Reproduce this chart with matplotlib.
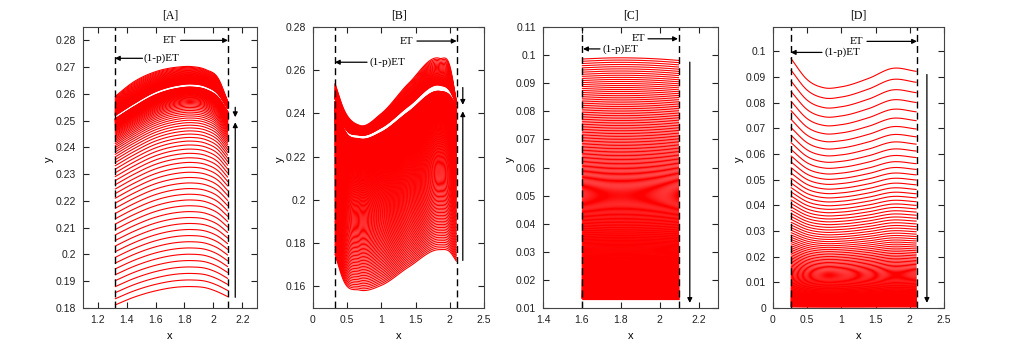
import numpy as np
import matplotlib
matplotlib.use("Agg")
import matplotlib.pyplot as plt
from matplotlib.collections import LineCollection
from matplotlib.ticker import FuncFormatter

# ---- values ----
# [A]
a_xa = [1.32, 1.45, 1.60, 1.75, 1.85, 1.95, 2.03, 2.10]
a_top = [0.2590, 0.2645, 0.2683, 0.2700, 0.2702, 0.2690, 0.2660, 0.2570]
a_upper_lim = [0.2518, 0.2563, 0.2608, 0.2632, 0.2637, 0.2627, 0.2600, 0.2544]
a_lower_lim = [0.2508, 0.2553, 0.2598, 0.2622, 0.2627, 0.2617, 0.2590, 0.2534]
a_bottom = [0.1811, 0.1840, 0.1864, 0.1878, 0.1880, 0.1875, 0.1860, 0.1842]
# spacing of neighbouring curves (as a fraction of the family range)
a_up_d = [1.0, 0.0]
a_up_step = [0.05, 0.01]
a_lo_d = [1.0, 0.5, 0.3, 0.15, 0.05, 0.0]
a_lo_step = [0.033, 0.028, 0.020, 0.010, 0.003, 0.0005]

# [B]
b_xa = [0.32, 0.45, 0.68, 1.00, 1.40, 1.85, 2.00, 2.10]
b_top = [0.2540, 0.2420, 0.2345, 0.2400, 0.2540, 0.2655, 0.2620, 0.2448]
b_upper_lim = [0.2470, 0.2345, 0.2300, 0.2335, 0.2435, 0.2530, 0.2505, 0.2442]
b_lower_lim = [0.2460, 0.2332, 0.2285, 0.2315, 0.2410, 0.2505, 0.2485, 0.2432]
b_bottom = [0.1750, 0.1625, 0.1583, 0.1605, 0.1690, 0.1770, 0.1760, 0.1715]
b_up_d = [1.0, 0.0]
b_up_step = [0.05, 0.01]
b_lo_d = [1.0, 0.0]
b_lo_step = [0.0114, 0.0008]

# [C]
c_xa = [1.60, 1.75, 1.85, 2.00, 2.10]
c_top = [0.0986, 0.0990, 0.0990, 0.0986, 0.0981]
c_limit = 0.013
c_d = [1.0, 0.0]
c_step = [0.0093, 0.0002]

# [D]
d_xa = [0.26, 0.50, 0.75, 1.00, 1.40, 1.75, 2.10]
d_top = [0.0973, 0.0890, 0.0858, 0.0862, 0.0895, 0.0934, 0.0922]
d_levels = [0.0973, 0.08, 0.06, 0.04, 0.02, 0.01, 0.005, 0.0]
d_spacing = [0.0045, 0.0036, 0.0024, 0.0013, 0.0006, 0.0003, 0.00015, 0.00006]


def hermite(xa, ya, xs):
    xa = np.asarray(xa, float)
    ya = np.asarray(ya, float)
    m = np.gradient(ya, xa)
    i = np.clip(np.searchsorted(xa, xs) - 1, 0, len(xa) - 2)
    h = xa[i + 1] - xa[i]
    t = (xs - xa[i]) / h
    h00 = 2 * t**3 - 3 * t**2 + 1
    h10 = t**3 - 2 * t**2 + t
    h01 = -2 * t**3 + 3 * t**2
    h11 = t**3 - t**2
    return h00 * ya[i] + h10 * h * m[i] + h01 * ya[i + 1] + h11 * h * m[i + 1]


def stepped(d_anchor, s_anchor, d_end):
    # walk from d_anchor[0] down to d_end, using the read spacing
    d = d_anchor[0]
    out = []
    while d > d_end:
        out.append(d)
        d -= np.interp(d, d_anchor[::-1], s_anchor[::-1])
    return out


def family(start, limit, dvals):
    return [limit + (start - limit) * d for d in dvals]


def fmt(v, _):
    return f"{v:g}"


serif = "Liberation Serif"
sans = "Liberation Sans"

fig = plt.figure(figsize=(10.35, 3.47), dpi=100)
W, H = 1035, 347
lefts = [83, 313, 543, 773]
widths = [174, 171, 175, 171]
axes = [fig.add_axes([l / W, 1 - 308 / H, w / W, 281 / H]) for l, w in zip(lefts, widths)]


def add_curves(ax, xs, curves):
    segs = [np.column_stack([xs, c]) for c in curves]
    ax.add_collection(LineCollection(segs, colors="#ff0000", linewidths=0.8))


def arrow(ax, tail, head):
    ax.annotate("", xy=head, xytext=tail,
                arrowprops=dict(arrowstyle="-|>", color="black", lw=0.9,
                                mutation_scale=7, shrinkA=0, shrinkB=0))


def style(ax, title, xlim, ylim, xticks, yticks, left_w, width):
    ax.set_xlim(*xlim)
    ax.set_ylim(*ylim)
    ax.set_xticks(xticks)
    ax.set_yticks(yticks)
    ax.xaxis.set_major_formatter(FuncFormatter(fmt))
    ax.yaxis.set_major_formatter(FuncFormatter(fmt))
    ax.tick_params(direction="in", length=4, width=0.8, top=True, right=True,
                   labelsize=7.5, colors="#222222", pad=5)
    for lab in ax.get_xticklabels() + ax.get_yticklabels():
        lab.set_family(sans)
    for s in ax.spines.values():
        s.set_color("#444444")
        s.set_linewidth(0.8)
    ax.set_title(title, family=serif, fontsize=8.5, pad=6)
    ax.set_xlabel("x", family=sans, fontsize=8)
    ax.set_ylabel("y", family=sans, fontsize=8, rotation=90)
    ax.xaxis.set_label_coords(0.5, -23 / 281)
    ax.yaxis.set_label_coords(-left_w / width, 0.53)


def dashes(ax, x0, x1):
    for xv in (x0, x1):
        ax.axvline(xv, color="black", lw=1.0, ls=(0, (5, 3)))


def labels(ax, et_x, et_y, pe_x, pe_y, x0, x1):
    ax.text(et_x[0], et_y, "ET", family=serif, fontsize=8, ha="right", va="center")
    arrow(ax, (et_x[1], et_y), (x1, et_y))
    ax.text(pe_x[0], pe_y, "(1-p)ET", family=serif, fontsize=8, ha="left", va="center")
    arrow(ax, (pe_x[1], pe_y), (x0, pe_y))


# ---- [A] ----
ax = axes[0]
xs = np.linspace(a_xa[0], a_xa[-1], 300)
top = hermite(a_xa, a_top, xs)
ulim = hermite(a_xa, a_upper_lim, xs)
llim = hermite(a_xa, a_lower_lim, xs)
bot = hermite(a_xa, a_bottom, xs)
add_curves(ax, xs, family(top, ulim, stepped(a_up_d, a_up_step, 0.003))
           + family(bot, llim, stepped(a_lo_d, a_lo_step, 0.002)))
dashes(ax, 1.32, 2.1)
labels(ax, (1.745, 1.773), 0.280, (1.52, 1.51), 0.2733, 1.32, 2.1)
arrow(ax, (2.15, 0.2550), (2.15, 0.2513))
arrow(ax, (2.15, 0.1840), (2.15, 0.2494))
style(ax, "[A]", (1.1, 2.3), (0.18, 0.285), np.arange(1.2, 2.21, 0.2),
      np.arange(0.18, 0.2801, 0.01), 29, 174)

# ---- [B] ----
ax = axes[1]
xs = np.linspace(b_xa[0], b_xa[-1], 300)
top = hermite(b_xa, b_top, xs)
ulim = hermite(b_xa, b_upper_lim, xs)
llim = hermite(b_xa, b_lower_lim, xs)
bot = hermite(b_xa, b_bottom, xs)
add_curves(ax, xs, family(top, ulim, stepped(b_up_d, b_up_step, 0.003))
           + family(bot, llim, stepped(b_lo_d, b_lo_step, 0.003)))
dashes(ax, 0.32, 2.1)
labels(ax, (1.46, 1.52), 0.2735, (0.82, 0.79), 0.2637, 0.32, 2.1)
arrow(ax, (2.19, 0.2520), (2.19, 0.2440))
arrow(ax, (2.19, 0.1720), (2.19, 0.2410))
style(ax, "[B]", (0, 2.5), (0.15, 0.28), np.arange(0, 2.51, 0.5),
      np.arange(0.16, 0.2801, 0.02), 28, 171)

# ---- [C] ----
ax = axes[2]
xs = np.linspace(c_xa[0], c_xa[-1], 300)
top = hermite(c_xa, c_top, xs)
add_curves(ax, xs, family(top, c_limit, stepped(c_d, c_step, 0.0035)))
dashes(ax, 1.6, 2.1)
labels(ax, (1.925, 1.94), 0.1058, (1.708, 1.693), 0.1022, 1.606, 2.094)
arrow(ax, (2.155, 0.0975), (2.155, 0.0118))
style(ax, "[C]", (1.4, 2.3), (0.01, 0.11), np.arange(1.4, 2.21, 0.2),
      np.arange(0.01, 0.1101, 0.01), 28, 175)

# ---- [D] ----
ax = axes[3]
xs = np.linspace(d_xa[0], d_xa[-1], 300)
shape = hermite(d_xa, d_top, xs) / d_top[0]
d_curves = [lev * shape for lev in stepped(d_levels, d_spacing, 0.0004)]
add_curves(ax, xs, d_curves)
dashes(ax, 0.26, 2.1)
labels(ax, (1.316, 1.374), 0.1039, (0.746, 0.716), 0.0996, 0.26, 2.105)
arrow(ax, (2.25, 0.091), (2.25, 0.002))
style(ax, "[D]", (0, 2.5), (0, 0.1095), np.arange(0, 2.51, 0.5),
      np.arange(0, 0.1001, 0.01), 29, 171)

fig.savefig("out.png", dpi=100)
